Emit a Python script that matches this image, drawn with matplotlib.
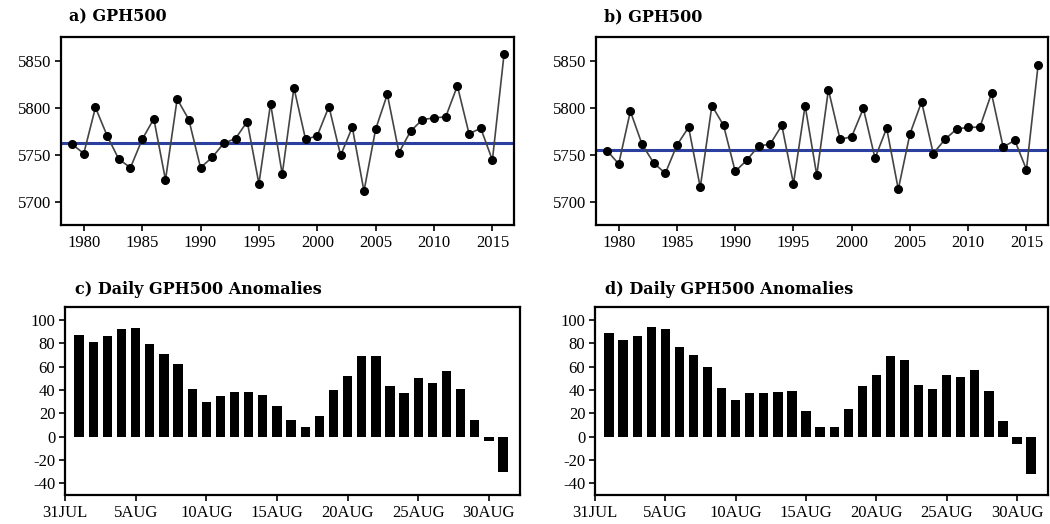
import matplotlib
matplotlib.use("Agg")
import matplotlib.pyplot as plt
import numpy as np

plt.rcParams["axes.unicode_minus"] = False

years = list(range(1979, 2017))
gph_a = [5762, 5752, 5801, 5771, 5746, 5737, 5767, 5789, 5724, 5810,
         5788, 5737, 5748, 5763, 5768, 5786, 5720, 5805, 5730, 5822,
         5767, 5771, 5802, 5750, 5780, 5712, 5778, 5815, 5753, 5776,
         5788, 5790, 5791, 5824, 5773, 5779, 5745, 5858]
mean_a = 5763
gph_b = [5755, 5741, 5797, 5762, 5742, 5731, 5761, 5780, 5716, 5803,
         5782, 5733, 5745, 5760, 5762, 5782, 5720, 5803, 5729, 5820,
         5767, 5770, 5800, 5747, 5779, 5714, 5773, 5807, 5752, 5767,
         5778, 5780, 5780, 5816, 5759, 5766, 5735, 5846]
mean_b = 5756

days = list(range(1, 32))
anom_c = [87, 81, 86, 92, 93, 79, 71, 62, 41, 30, 35, 38, 38, 36, 26, 14,
          8, 18, 40, 52, 69, 69, 43, 37, 50, 46, 56, 41, 14, -4, -30]
anom_d = [89, 83, 86, 94, 92, 77, 70, 60, 42, 31, 37, 37, 38, 39, 22, 8,
          8, 24, 43, 53, 69, 66, 44, 41, 53, 51, 57, 39, 13, -6, -32]

year_ticks = [1980, 1985, 1990, 1995, 2000, 2005, 2010, 2015]
gph_ticks = [5700, 5750, 5800, 5850]
day_ticks = [0, 5, 10, 15, 20, 25, 30]
day_labels = ["31JUL", "5AUG", "10AUG", "15AUG", "20AUG", "25AUG", "30AUG"]
anom_ticks = [-40, -20, 0, 20, 40, 60, 80, 100]

titles = ["a) GPH500", "b) GPH500",
          "c) Daily GPH500 Anomalies", "d) Daily GPH500 Anomalies"]

W, H = 1050, 524
fig = plt.figure(figsize=(W / 100, H / 100), dpi=100)

def ax_at(l, t, r, b):
    return fig.add_axes([l / W, 1 - b / H, (r - l) / W, (b - t) / H])

tick_font = dict(family="Liberation Serif", size=12)
title_font = dict(family="DejaVu Serif", size=11.5, weight="bold")

def style(ax):
    for s in ax.spines.values():
        s.set_linewidth(1.6)
        s.set_color("black")
    ax.tick_params(direction="out", length=4, width=1.2, pad=3,
                   top=False, right=False)
    for lab in ax.get_xticklabels() + ax.get_yticklabels():
        lab.set_fontfamily(tick_font["family"])
        lab.set_fontsize(tick_font["size"])

boxes_top = [(61, 37, 514, 225), (596, 37, 1048, 225)]
boxes_bot = [(65, 307, 520, 495), (595, 307, 1048, 495)]

for i, (vals, mean) in enumerate([(gph_a, mean_a), (gph_b, mean_b)]):
    ax = ax_at(*boxes_top[i])
    ax.axhline(mean, color="#2b3fa0", lw=2.2, zorder=1)
    ax.plot(years, vals, color="#444444", lw=1.2, marker="o", ms=5.5,
            mfc="black", mec="black", zorder=2)
    ax.set_xlim(1978.05, 2016.85)
    ax.set_ylim(5676, 5876)
    ax.set_xticks(year_ticks)
    ax.set_yticks(gph_ticks)
    style(ax)
    fig.text((boxes_top[i][0] + 8) / W, 1 - 17 / H, titles[i],
             ha="left", va="center", **title_font)

for i, vals in enumerate([anom_c, anom_d]):
    ax = ax_at(*boxes_bot[i])
    ax.bar(days, vals, width=0.66, color="black")
    ax.set_xlim(0, 32.2)
    ax.set_ylim(-50, 111)
    ax.set_xticks(day_ticks)
    ax.set_xticklabels(day_labels)
    ax.set_yticks(anom_ticks)
    style(ax)
    fig.text((boxes_bot[i][0] + 10) / W, 1 - 290 / H, titles[i + 2],
             ha="left", va="center", **title_font)

fig.savefig("out.png", dpi=100)
